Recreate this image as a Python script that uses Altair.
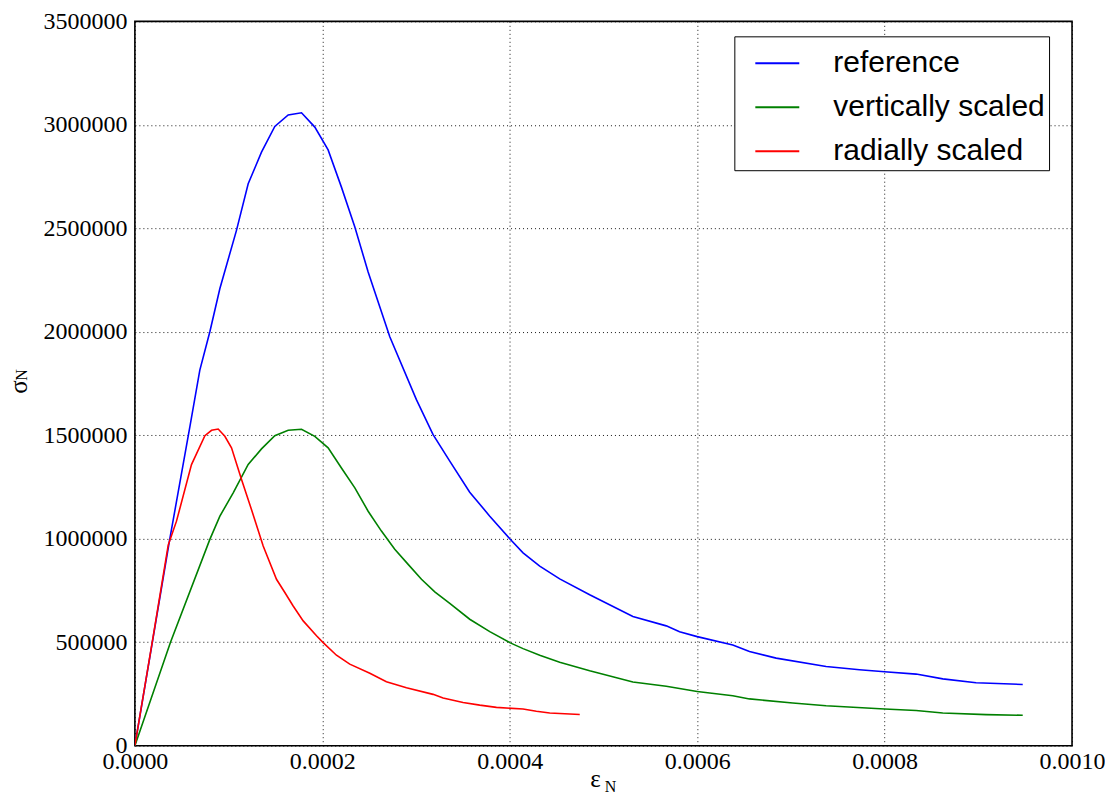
import altair as alt
import pandas as pd

# ---- data ----
ref_x = [0, 0.0000373, 0.0000587, 0.0000693, 0.00008, 0.0000907, 0.0001084, 0.0001209,
         0.0001351, 0.0001493, 0.0001636, 0.0001778, 0.000192, 0.0002062, 0.0002204,
         0.0002347, 0.0002489, 0.000272, 0.0003004, 0.0003182, 0.000336, 0.0003573,
         0.0003787, 0.0004, 0.0004142, 0.000432, 0.0004533, 0.0004853, 0.0005314,
         0.000567, 0.0005812, 0.0006, 0.000638, 0.0006558, 0.0006843, 0.0007376,
         0.0007732, 0.0008, 0.0008336, 0.0008621, 0.0008976, 0.0009474]
ref_y = [0, 1000000, 1542000, 1815000, 2000000, 2209000, 2490000, 2715000,
         2868000, 2992000, 3048000, 3058000, 2989000, 2879000, 2699000,
         2506000, 2289000, 1976000, 1672000, 1503000, 1375000, 1225000,
         1109000, 1000000, 932000, 868000, 806000, 729000, 624000,
         579000, 551000, 527000, 487000, 455000, 423000, 383000,
         367000, 357000, 346000, 323000, 304000, 296000]

vert_x = [0, 0.000038, 0.00008, 0.0000907, 0.0001049, 0.0001209, 0.0001351, 0.0001493,
          0.0001636, 0.0001778, 0.000192, 0.0002062, 0.0002204, 0.0002347, 0.0002489,
          0.0002631, 0.0002773, 0.0002916, 0.0003058, 0.00032, 0.000336, 0.0003573,
          0.0003787, 0.0004, 0.0004142, 0.000432, 0.0004533, 0.0004853, 0.0005314,
          0.000567, 0.0006, 0.000638, 0.0006558, 0.000702, 0.0007376, 0.0008,
          0.0008336, 0.0008621, 0.0009083, 0.0009474]
vert_y = [0, 500000, 997000, 1109000, 1222000, 1359000, 1434000, 1498000,
          1524000, 1529000, 1495000, 1439000, 1342000, 1246000, 1133000,
          1037000, 949000, 876000, 804000, 743000, 688000, 611000,
          551000, 498000, 469000, 437000, 403000, 362000, 308000,
          287000, 262000, 241000, 226000, 206000, 193000, 177000,
          170000, 158000, 150000, 147000]

rad_x = [0, 0.0000196, 0.0000356, 0.0000444, 0.0000604, 0.0000747, 0.0000818, 0.0000889,
         0.000096, 0.0001031, 0.0001138, 0.0001244, 0.0001369, 0.0001511, 0.00016,
         0.0001689, 0.0001796, 0.0001938, 0.0002009, 0.0002151, 0.0002293, 0.0002507,
         0.0002684, 0.0002898, 0.0003182, 0.0003289, 0.0003502, 0.000368, 0.0003858,
         0.0004142, 0.0004284, 0.0004427, 0.0004747]
rad_y = [0, 530000, 970000, 1085000, 1358000, 1498000, 1524000, 1530000,
         1495000, 1439000, 1286000, 1141000, 965000, 804000, 740000,
         675000, 603000, 531000, 498000, 437000, 394000, 350000,
         309000, 280000, 248000, 230000, 209000, 196000, 185000,
         177000, 166000, 158000, 151000]

series_names = ["reference", "vertically scaled", "radially scaled"]
series_colors = ["#0000ff", "#008000", "#ff0000"]
x_ticks = [0, 0.0002, 0.0004, 0.0006, 0.0008, 0.0010]
y_ticks = [0, 500000, 1000000, 1500000, 2000000, 2500000, 3000000, 3500000]

rows = []
for name, xs, ys in zip(series_names, [ref_x, vert_x, rad_x], [ref_y, vert_y, rad_y]):
    for i, (a, b) in enumerate(zip(xs, ys)):
        rows.append({"eps": a, "sigma": b, "series": name, "i": i})
df = pd.DataFrame(rows)

W, H = 938, 725

lines = alt.Chart(df).mark_line(strokeWidth=1.6, clip=True).encode(
    x=alt.X("eps:Q", scale=alt.Scale(domain=[0, 0.001], nice=False, zero=False),
            axis=alt.Axis(values=x_ticks, format=".4f", title=None, grid=True,
                          labelFlush=False, labelOverlap=False, labelPadding=4)),
    y=alt.Y("sigma:Q", scale=alt.Scale(domain=[0, 3500000], nice=False),
            axis=alt.Axis(values=y_ticks, format="d", title=None, grid=True,
                          labelFlush=False, labelOverlap=False, labelPadding=8)),
    color=alt.Color("series:N",
                    scale=alt.Scale(domain=series_names, range=series_colors),
                    legend=alt.Legend(title=None, orient="none", legendX=600, legendY=15,
                                      strokeColor="black", fillColor="white",
                                      padding=4, symbolOffset=16,
                                      symbolType="stroke", symbolSize=1936,
                                      symbolStrokeWidth=2,
                                      labelFont="Liberation Sans", labelFontSize=30,
                                      labelColor="black", labelOffset=33,
                                      rowPadding=6, labelLimit=400)),
    order="i:Q",
)

def label(txt, x, y, size, angle=0):
    return alt.Chart(pd.DataFrame({"t": [txt]})).mark_text(
        font="Liberation Serif", fontSize=size, color="black",
        align="center", baseline="middle", angle=angle,
    ).encode(text="t:N", x=alt.value(x), y=alt.value(y))

xt1 = label("ε", 461, 758, 25)
xt2 = label("N", 476, 766, 16)
yt1 = label("σ", -116, 366, 25, angle=270)
yt2 = label("N", -113, 354, 16, angle=270)

chart = alt.layer(lines, xt1, xt2, yt1, yt2).properties(
    width=W, height=H,
    padding={"left": 127, "top": 13, "right": 33, "bottom": 49},
    autosize=alt.AutoSizeParams(type="none"),
    background="white",
).configure_view(
    stroke="black", strokeWidth=1.6
).configure_axis(
    domain=False, ticks=False,
    labelFont="Liberation Serif", labelFontSize=24, labelColor="black",
    gridColor="black", gridDash=[1, 3], gridOpacity=0.9, gridWidth=1,
)

chart.save("out.html", embed_options={"renderer": "svg", "actions": False})
